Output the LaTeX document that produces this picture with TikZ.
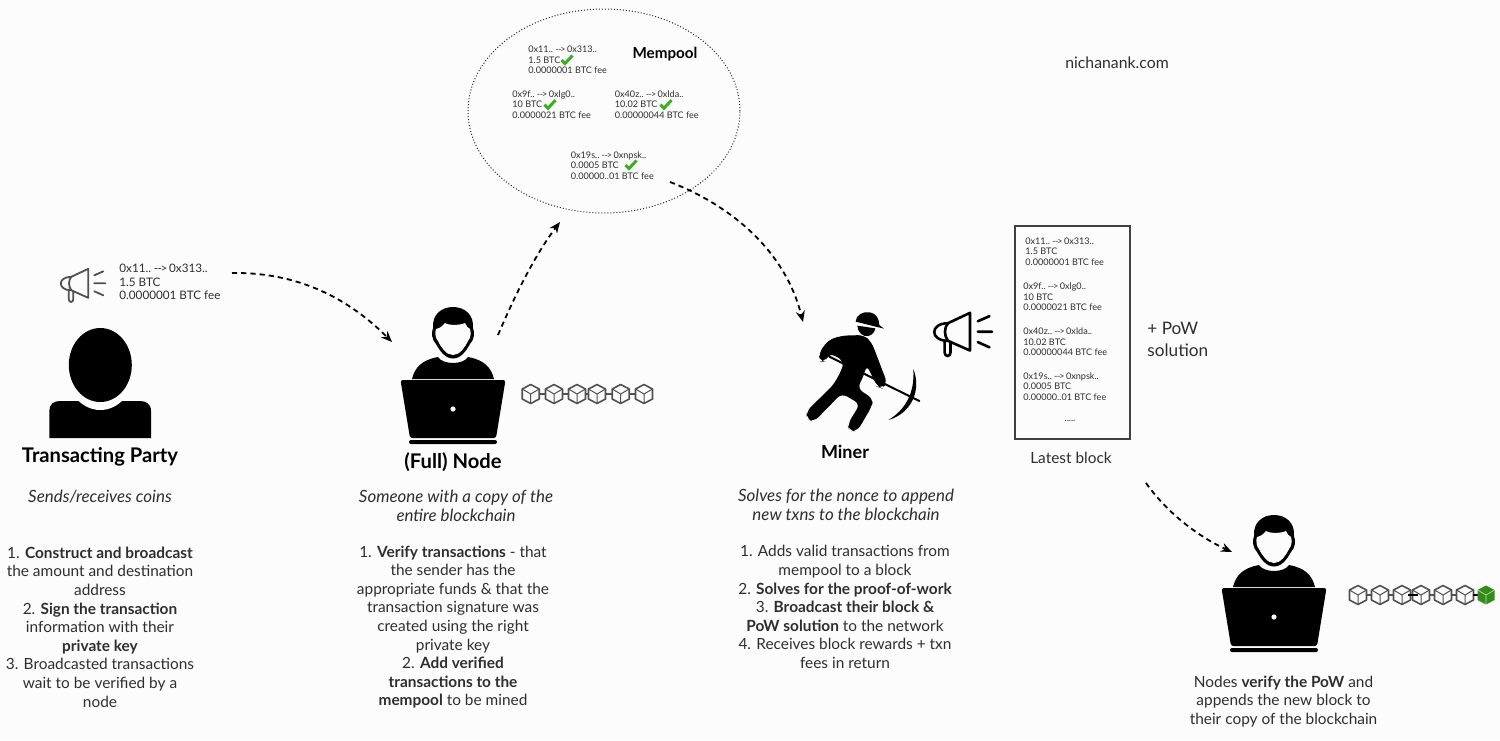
\documentclass[tikz,border=0pt]{standalone}
\usepackage{fontspec}
\setmainfont{Lato}
\usetikzlibrary{arrows.meta,shapes.geometric}
\definecolor{pagebg}{HTML}{FCFCFC}
\definecolor{bodytxt}{HTML}{2E2E2E}
\definecolor{cubegray}{HTML}{505050}
\definecolor{checkgreen}{HTML}{3DAF1E}
\newcommand{\cubeshape}{(0,-9.5) -- (8.5,-5) -- (8.5,5) -- (0,9.5) -- (-8.5,5) -- (-8.5,-5) -- cycle}
\newcommand{\cubeinner}{(-8.5,-5) -- (0,0) -- (8.5,-5) (0,0) -- (0,9.5)}
\newcommand{\txnto}{\kern-.1em-\kern-.06em-\kern-.12em>\kern-.1em}
\tikzset{
    bodytext/.style={align=center,text=bodytxt,inner sep=0pt,font=\fontsize{7.7}{9.3}\selectfont},
    roletext/.style={align=center,text=bodytxt,inner sep=0pt,font=\fontsize{8.45}{9.3}\selectfont\itshape},
    titletext/.style={align=center,inner sep=0pt,font=\fontsize{10.1}{11}\selectfont\bfseries},
    txntext/.style={align=left,anchor=west,text=bodytxt,inner sep=0pt,font=\fontsize{4.55}{5.25}\selectfont},
    flowarrow/.style={draw=black,line width=0.9pt,dash pattern=on 2.6pt off 2pt,-{Stealth[length=5.5pt,width=4.5pt]}},
    pics/laptopuser/.style={code={
        \fill (0,-21.5) .. controls (-8,-21.5) and (-13,-29) .. (-17,-36)
            .. controls (-21,-40) and (-22,-47) .. (-20,-52)
            .. controls (-21,-66) and (-11,-73) .. (0,-73)
            .. controls (11,-73) and (21,-66) .. (20,-52)
            .. controls (22,-47) and (21,-40) .. (17,-36)
            .. controls (13,-29) and (8,-21.5) .. (0,-21.5) -- cycle;
        \fill[pagebg] (0,-25) .. controls (-7,-25) and (-12,-33) .. (-15,-39)
            .. controls (-18,-42) and (-18,-48) .. (-17,-51)
            .. controls (-12,-52) and (-10,-55) .. (-8,-57)
            .. controls (-3,-54) and (8,-55) .. (12,-57)
            .. controls (13,-54) and (15,-52) .. (17,-51)
            .. controls (18,-48) and (18,-42) .. (15,-39)
            .. controls (12,-33) and (7,-25) .. (0,-25) -- cycle;
        \fill (-41,-1) .. controls (-38,-13) and (-31,-20) .. (-15,-23)
            .. controls (-10,-15) and (10,-15) .. (15,-23)
            .. controls (31,-20) and (38,-13) .. (41,-1) -- cycle;
        \fill[rounded corners=1.2pt] (-52.5,0) -- (52.5,0) -- (43,58) -- (-43,58) -- cycle;
        \fill[rounded corners=1pt] (-44,60) rectangle (44,64);
        \fill[pagebg] (0,29) circle (2.6);
    }},
    pics/megaphone/.style={code={
        \draw[line join=round,line cap=round,draw=#1,fill=pagebg]
            (-17,-6.5) -- (0,-14.5) -- (0,14.5) -- (-17,7)
            .. controls (-31,7) and (-31,-6.5) .. (-17,-6.5) -- cycle;
        \draw[draw=#1] (-17,-6.5) .. controls (-20,-3) and (-20,3) .. (-17,7);
        \draw[draw=#1,line cap=round] (-19.5,7.5) -- (-19.5,16) .. controls (-19.5,19.5) and (-15,19.5) .. (-15,16) -- (-15,8);
        \draw[draw=#1,line cap=round] (6,-8) -- (15,-12) (6,0) -- (17,0) (6,8) -- (15,12);
    }},
    pics/blockcube/.style={code={
        \draw[line width=0.8pt,draw=cubegray,fill=pagebg,line join=round] \cubeshape;
        \draw[line width=0.5pt,draw=cubegray] \cubeinner;
    }},
    pics/newcube/.style={code={
        \fill[checkgreen!80!black,line join=round] \cubeshape;
        \draw[line width=0.3pt,draw=white!70!checkgreen] \cubeinner;
    }},
    pics/tick/.style={code={
        \draw[draw=checkgreen,line width=1.5pt] (-4.5,0) -- (-1,3.5) -- (6.5,-4.5);
    }}
}
\begin{document}
\begin{tikzpicture}[x=0.5pt,y=-0.5pt]
    \fill[pagebg] (0,0) rectangle (1500,740);
    \useasboundingbox (0,0) rectangle (1500,740);

    % left column
    \fill (49.3,438) -- (49.3,411) .. controls (49.3,404) and (54,401) .. (60,401) -- (140,401)
        .. controls (146,401) and (151,404) .. (151,411) -- (151,438) -- cycle;
    \fill[pagebg] (100.3,368) ellipse (35 and 42);
    \fill (100.3,365) ellipse (31.5 and 37);
    \pic[line width=0.9pt] at (88.3,283.3) {megaphone=cubegray};
    \node[txntext,font=\fontsize{5.85}{6.75}\selectfont] (partytxn) at (119,282) {0x11.. \txnto{} 0x313..\\1.5 BTC\\0.0000001 BTC fee};
    \node[titletext] (party) at (100,457) {Transacting Party};
    \node[roletext] (partyrole) at (100,497) {Sends/receives coins};
    \node[bodytext] (partysteps) at (100,627) {1. \textbf{Construct and broadcast}\\the amount and destination\\address\\2. \textbf{Sign the transaction}\\information with their\\\textbf{private key}\\3. Broadcasted transactions\\wait to be verified by a\\node};

    % full node column
    \pic at (453,380) {laptopuser};
    \draw[line width=0.8pt,cubegray] (530.7,394) -- (644,394);
    \foreach \cx in {530.7,554,577,597,620.7,644}
        \pic at (\cx,394) {blockcube};
    \node[titletext] (fullnode) at (453,462.5) {(Full) Node};
    \node[roletext] (noderole) at (456,506) {Someone with a copy of the\\entire blockchain};
    \node[bodytext] (nodesteps) at (453,627) {1. \textbf{Verify transactions} - that\\the sender has the\\appropriate funds \& that the\\transaction signature was\\created using the right\\private key\\2. \textbf{Add verified}\\\textbf{transactions to the}\\\textbf{mempool} to be mined};

    % mempool
    \node[ellipse,draw=black!85,densely dotted,line width=0.5pt,minimum width=136pt,minimum height=102pt,inner sep=0pt] (mempool) at (604,111) {};
    \node[inner sep=0pt,font=\fontsize{7.6}{9}\selectfont\bfseries] (mempooltitle) at (665,54) {Mempool};
    \node[txntext] (pool1) at (528,60) {0x11.. \txnto{} 0x313..\\1.5 BTC\\0.0000001 BTC fee};
    \node[txntext] (pool2) at (512,104.5) {0x9f.. \txnto{} 0xlg0..\\10 BTC\\0.0000021 BTC fee};
    \node[txntext] (pool3) at (614.5,104.5) {0x40z.. \txnto{} 0xlda..\\10.02 BTC\\0.00000044 BTC fee};
    \node[txntext] (pool4) at (570.5,165.5) {0x19s.. \txnto{} 0xnpsk..\\0.0005 BTC\\0.00000..01 BTC fee};
    \pic at (566,60) {tick};
    \pic at (549,104.7) {tick};
    \pic at (665,104.7) {tick};
    \pic at (630,165) {tick};

    % miner
    \begin{scope}[shift={(800,305)},x=0.16667pt,y=-0.16667pt]
        \fill (167,50) .. controls (167,30) and (190,18) .. (210,22) .. controls (230,25) and (238,45) .. (238,60) -- (252,71) -- cycle;
        \fill (172,62) .. controls (172,82) and (190,97) .. (205,93) .. controls (218,90) and (225,78) .. (226,70) -- cycle;
        \fill[rounded corners=3pt] (60,170) -- (56,145) -- (85,105) -- (125,92) -- (192,90) -- (215,112)
            -- (262,235) -- (245,250) -- (232,245) -- (200,180) -- (190,215) -- (172,250) -- (220,282)
            -- (215,305) -- (172,378) -- (148,378) -- (143,358) -- (180,297) -- (125,265) -- (42,350)
            -- (20,342) -- (20,318) -- (100,240) -- (125,195) -- (132,170) -- (100,148) -- (85,148)
            -- (75,170) -- cycle;
        \draw[line width=1pt,line cap=round] (88,155) -- (358,288);
        \fill (340,192) .. controls (365,255) and (335,325) .. (265,345) .. controls (315,315) and (345,265) .. (340,192) -- cycle;
    \end{scope}
    \pic[scale=1.3,line width=1.3pt] at (970,331.7) {megaphone=black};
    \node[titletext,font=\fontsize{9}{11}\selectfont\bfseries] (miner) at (845,452) {Miner};
    \node[roletext] (minerrole) at (846,505) {Solves for the nonce to append\\new txns to the blockchain};
    \node[bodytext] (minersteps) at (845,607) {1. Adds valid transactions from\\mempool to a block\\2. \textbf{Solves for the proof-of-work}\\3. \textbf{Broadcast their block \&}\\\textbf{PoW solution} to the network\\4. Receives block rewards + txn\\fees in return};

    % latest block
    \node[draw=black!75,line width=0.6pt,minimum width=57.5pt,minimum height=106.5pt,inner sep=0pt] (latestblock) at (1072.5,332.5) {};
    \node[txntext] (block1) at (1025,251.5) {0x11.. \txnto{} 0x313..\\1.5 BTC\\0.0000001 BTC fee};
    \node[txntext] (block2) at (1023,297) {0x9f.. \txnto{} 0xlg0..\\10 BTC\\0.0000021 BTC fee};
    \node[txntext] (block3) at (1023,342) {0x40z.. \txnto{} 0xlda..\\10.02 BTC\\0.00000044 BTC fee};
    \node[txntext] (block4) at (1023,386.5) {0x19s.. \txnto{} 0xnpsk..\\0.0005 BTC\\0.00000..01 BTC fee};
    \node[txntext,anchor=center] (blockdots) at (1070,421) {.....};
    \node[bodytext] (blocklabel) at (1071,458) {Latest block};
    \node[bodytext,align=left,anchor=west,font=\fontsize{8.6}{11}\selectfont] (powlabel) at (1147,339) {+ PoW\\solution};
    \node[inner sep=0pt,text=bodytxt,font=\fontsize{7.9}{9}\selectfont] (website) at (1117,63) {nichanank.com};

    % verifying node
    \pic at (1274,588) {laptopuser};
    \draw[line width=0.8pt,cubegray] (1358,595) -- (1465,595);
    \foreach \cx in {1358,1380,1402,1421,1443,1465}
        \pic at (\cx,595) {blockcube};
    \draw[line width=0.9pt] (1408,595) -- (1418,595);
    \draw[line width=0.9pt] (1473,595) -- (1480,595);
    \pic at (1486,595) {newcube};
    \node[bodytext] (verifytext) at (1283.5,701.5) {Nodes \textbf{verify the PoW} and\\appends the new block to\\their copy of the blockchain};

    % flow
    \coordinate (partyout) at (232,273);
    \coordinate (nodein) at (392,342);
    \coordinate (nodeout) at (498,335);
    \coordinate (poolin) at (560,222);
    \coordinate (poolout) at (670,182);
    \coordinate (minerin) at (803,322);
    \coordinate (blockout) at (1146,483);
    \coordinate (verifyin) at (1232,552);
    \draw[flowarrow] (partyout) .. controls (300,272) and (350,300) .. (nodein);
    \draw[flowarrow] (nodeout) .. controls (515,295) and (535,255) .. (poolin);
    \draw[flowarrow] (poolout) .. controls (730,205) and (785,250) .. (minerin);
    \draw[flowarrow] (blockout) .. controls (1165,510) and (1195,535) .. (verifyin);
\end{tikzpicture}
\end{document}
